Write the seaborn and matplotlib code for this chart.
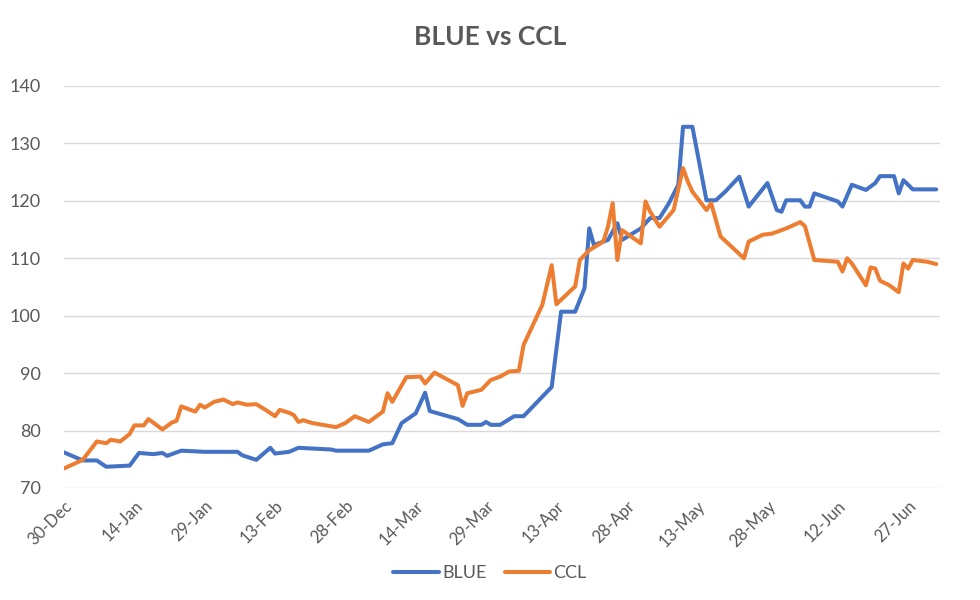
import pandas as pd
import numpy as np
import matplotlib
matplotlib.use("Agg")
import matplotlib.pyplot as plt
import seaborn as sns
from matplotlib.lines import Line2D

# ---- data (day offsets from 30-Dec-2019) ----
start_date = "2019-12-30"
blue_days = [0, 4, 7, 9, 14, 16, 19, 21, 22, 25, 30, 37, 38, 41, 44, 45, 48, 50,
             57, 58, 65, 68, 70, 72, 75, 77, 78, 84, 86, 89, 90, 91, 93, 96, 98,
             104, 106, 109, 111, 112, 113, 116, 118, 119, 123, 125, 127, 129, 131,
             132, 134, 137, 139, 141, 144, 146, 150, 152, 153, 154, 157, 158, 159,
             160, 165, 166, 168, 171, 173, 174, 177, 178, 179, 181, 186]
blue_values = [76.2, 74.8, 74.8, 73.7, 73.9, 76.1, 75.9, 76.1, 75.6, 76.5, 76.3,
               76.3, 75.7, 74.9, 77.0, 76.0, 76.3, 77.0, 76.7, 76.5, 76.5, 77.6,
               77.8, 81.3, 83.0, 86.6, 83.4, 82.0, 81.0, 81.0, 81.5, 81.0, 81.0,
               82.5, 82.5, 87.6, 100.7, 100.7, 104.8, 115.2, 112.3, 113.2, 116.1,
               113.2, 115.2, 117.0, 117.0, 119.6, 122.8, 132.9, 132.9, 120.1,
               120.1, 121.6, 124.2, 119.0, 123.1, 118.4, 118.1, 120.1, 120.1,
               119.0, 119.0, 121.3, 119.9, 119.0, 122.8, 121.9, 123.1, 124.3,
               124.3, 121.3, 123.6, 122.0, 122.0]

ccl_days = [0, 4, 7, 9, 10, 12, 14, 15, 17, 18, 21, 23, 24, 25, 28, 29, 30, 32,
            34, 36, 37, 39, 41, 43, 45, 46, 48, 49, 50, 51, 53, 58, 60, 62, 65,
            68, 69, 70, 73, 76, 77, 79, 84, 85, 86, 89, 91, 93, 95, 97, 98, 102,
            104, 105, 109, 110, 112, 115, 116, 117, 118, 119, 123, 124, 125, 127,
            130, 132, 133, 134, 137, 138, 140, 145, 146, 149, 151, 154, 157, 158,
            160, 165, 166, 167, 168, 171, 172, 173, 174, 176, 178, 179, 180, 181,
            184, 186]
ccl_values = [73.4, 74.9, 78.1, 77.8, 78.4, 78.1, 79.4, 80.9, 80.9, 82.0, 80.2,
              81.4, 81.7, 84.2, 83.3, 84.5, 84.0, 85.0, 85.4, 84.6, 84.9, 84.5,
              84.6, 83.6, 82.5, 83.6, 83.1, 82.7, 81.5, 81.8, 81.3, 80.6, 81.3,
              82.5, 81.5, 83.3, 86.5, 85.0, 89.3, 89.4, 88.2, 90.1, 87.9, 84.3,
              86.5, 87.1, 88.8, 89.4, 90.3, 90.4, 94.9, 101.9, 108.8, 102.0,
              105.1, 109.7, 111.4, 112.9, 115.5, 119.6, 109.7, 114.9, 112.6,
              119.9, 118.1, 115.5, 118.4, 125.7, 123.4, 121.6, 118.4, 119.6,
              113.8, 110.0, 112.9, 114.1, 114.3, 115.2, 116.3, 115.6, 109.7,
              109.4, 107.7, 110.0, 109.1, 105.3, 108.4, 108.2, 106.1, 105.3,
              104.1, 109.1, 108.2, 109.7, 109.4, 109.0]

series_names = ["BLUE", "CCL"]
tick_labels = ["30-Dec", "14-Jan", "29-Jan", "13-Feb", "28-Feb", "14-Mar", "29-Mar",
               "13-Apr", "28-Apr", "13-May", "28-May", "12-Jun", "27-Jun"]
y_ticks = [70, 80, 90, 100, 110, 120, 130, 140]

# ---- build table ----
base = pd.Timestamp(start_date)
df = pd.concat([
    pd.DataFrame({"date": base + pd.to_timedelta(blue_days, unit="D"),
                  "value": blue_values, "series": series_names[0]}),
    pd.DataFrame({"date": base + pd.to_timedelta(ccl_days, unit="D"),
                  "value": ccl_values, "series": series_names[1]}),
], ignore_index=True)

colors = {"BLUE": "#4472C4", "CCL": "#ED7D31"}
text_color = "#595959"
font = ["Lato", "DejaVu Sans"]

sns.set_theme(style="white")
plt.rcParams["font.family"] = font

fig = plt.figure(figsize=(9.8, 6.0), dpi=100)
ax = fig.add_axes([64 / 980, 1 - 488 / 600, (940 - 64) / 980, (488 - 86) / 600])

sns.lineplot(data=df, x="date", y="value", hue="series", palette=colors,
             linewidth=2.9, ax=ax, legend=False, estimator=None, sort=False)

ax.set_ylim(70, 140)
ax.set_yticks(y_ticks)
ax.set_xlim(base, base + pd.Timedelta(days=186.8))
tick_dates = [base + pd.Timedelta(days=15 * i) for i in range(len(tick_labels))]
ax.set_xticks(tick_dates)
ax.set_xticklabels(tick_labels, rotation=45, ha="right", rotation_mode="anchor")

ax.grid(axis="y", color="#D9D9D9", linewidth=1.0)
ax.grid(axis="x", visible=False)
ax.set_axisbelow(True)
for s in ax.spines.values():
    s.set_visible(False)
ax.tick_params(axis="both", length=0, colors=text_color)
ax.tick_params(axis="y", pad=17, labelsize=13)
ax.tick_params(axis="x", pad=7, labelsize=12)
ax.set_xlabel("")
ax.set_ylabel("")

fig.text(0.5, 1 - 37 / 600, "BLUE vs CCL", ha="center", va="center",
         fontsize=19, fontweight="bold", color=text_color)

handles = [Line2D([0], [0], color=colors[n], linewidth=2.9) for n in series_names]
leg = fig.legend(handles, series_names, loc="center", bbox_to_anchor=(0.5, 1 - 573 / 600),
                 ncol=2, frameon=False, handlelength=2.5, columnspacing=1.0,
                 handletextpad=0.2, fontsize=13)
for t in leg.get_texts():
    t.set_color(text_color)

fig.savefig("out.png", dpi=100, facecolor="white")
